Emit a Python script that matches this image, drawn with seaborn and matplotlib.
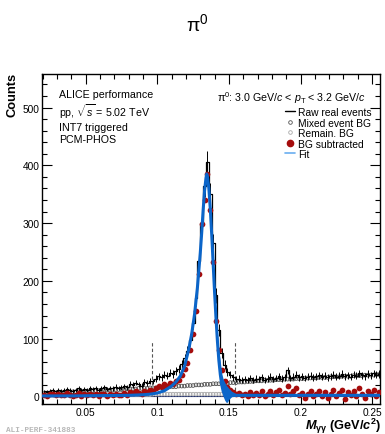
import numpy as np
import pandas as pd
import seaborn as sns
import matplotlib
matplotlib.use("Agg")
import matplotlib.pyplot as plt
from matplotlib.lines import Line2D
from matplotlib.ticker import MultipleLocator, FuncFormatter

# ---------------- data ----------------
# invariant mass bin centres, 2 MeV bins
mass = np.round(0.021 + 0.002 * np.arange(118), 3)

raw_counts = [
    9, 8, 10, 11, 9, 12, 10, 11, 13, 12, 10, 12, 14, 11, 13,
    12, 14, 13, 15, 12, 14, 16, 13, 15, 14, 17, 15, 16, 18, 16,
    22, 20, 24, 21, 19, 25, 23, 27, 26, 31,
    35, 33, 38, 36, 41, 39, 44, 48, 56, 66,
    78, 98, 128, 170, 235, 300, 365, 405, 350, 265,
    175, 115, 75, 55, 42, 38, 33, 30, 31, 28,
    30, 29, 32, 28, 31, 30, 33, 29, 31, 34, 30, 32, 35, 31, 33, 45, 32, 34, 38, 33,
    35, 32, 34, 36, 33, 35, 37, 34, 36, 33, 35, 38, 34, 36, 39, 35, 37, 34, 38, 36,
    40, 37, 35, 39, 37, 40, 38, 39,
]

mixed_bg = [
    5, 5, 6, 6, 6, 7, 7, 7, 7, 8, 8, 8, 8, 9, 9,
    9, 9, 10, 10, 10, 10, 11, 11, 11, 11, 12, 12, 12, 12, 13,
    13, 13, 13, 14, 14, 14, 14, 15, 15, 15,
    15, 16, 16, 16, 17, 17, 17, 18, 18, 18,
    19, 19, 19, 20, 20, 20, 21, 21, 21, 22,
    22, 22, 23, 23, 23, 24, 24, 24, 25, 25,
    25, 26, 26, 26, 27, 27, 27, 28, 28, 28, 28, 29, 29, 29, 30, 30, 30, 30, 31, 31,
    31, 31, 32, 32, 32, 32, 33, 33, 33, 33, 34, 34, 34, 34, 35, 35, 35, 35, 36, 36,
    36, 36, 37, 37, 37, 37, 38, 38,
]

bg_subtracted = [
    3, 1, 4, 5, 2, 4, 2, 3, 6, 3, 1, 3, 6, 1, 4,
    2, 5, 2, 4, 1, 4, 5, 1, 4, 2, 5, 2, 3, 6, 2,
    8, 6, 10, 6, 4, 10, 8, 11, 10, 15,
    19, 16, 21, 19, 23, 21, 26, 29, 37, 47,
    58, 80, 108, 148, 212, 298, 340, 385, 322, 232,
    130, 80, 45, 26, 16, 12, 8, 5, 6, 2,
    5, 1, 8, 2, 6, 3, 9, 1, 5, 10, 2, 7, 12, 3, 6, 18, 4, 9, 14, 3,
    6, -2, 5, 9, 1, 4, 10, 0, 7, -3, 5, 11, 1, 6, 12, -5, 8, 3, 10, 0,
    14, 5, -2, 9, 4, 12, 1, 8,
]

remain_mass = np.round(0.081 + 0.002 * np.arange(45), 3)
remain_bg = [3, 3, 3, 3, 3, 3, 3, 3, 4, 4, 4, 4, 4, 4, 4, 4, 4, 4, 4, 4, 4, 4, 4,
             4, 4, 4, 4, 4, 4, 4, 4, 4, 4, 4, 4, 4, 4, 4, 4, 3, 3, 3, 3, 3, 3]

fit_x = [0.020, 0.040, 0.060, 0.080, 0.090, 0.095, 0.100, 0.105, 0.110, 0.113,
         0.116, 0.119, 0.122, 0.124, 0.126, 0.128, 0.130, 0.131, 0.132, 0.133,
         0.134, 0.1345, 0.135, 0.136, 0.137, 0.138, 0.139, 0.140, 0.141, 0.142,
         0.143, 0.144, 0.145, 0.146, 0.147, 0.148, 0.150, 0.155, 0.160, 0.200, 0.256]
fit_y = [1, 1, 1.5, 2, 3, 4, 6, 10, 18, 25,
         35, 52, 82, 108, 142, 188, 248, 283, 322, 356,
         378, 385, 381, 360, 325, 280, 230, 180, 135, 95,
         62, 38, 20, 9, 3, 1, 1, 2, 2, 2, 2]

band_x = [0.141, 0.143, 0.145, 0.146, 0.147, 0.148, 0.149, 0.150, 0.152, 0.155, 0.157]
band_lo = [110, 50, 12, 0, -6, -10, -10, -5, 0, 1, 2]
band_hi = [140, 80, 40, 30, 25, 20, 17, 14, 9, 5, 2]

window = [0.096, 0.154]
window_top = 95

legend_labels = ["Raw real events", "Mixed event BG", "Remain. BG", "BG subtracted", "Fit"]

# ---------------- styling ----------------
sns.set_theme(style="ticks")
plt.rcParams["font.family"] = ["Liberation Sans", "DejaVu Sans"]
plt.rcParams["mathtext.fontset"] = "custom"
plt.rcParams["mathtext.rm"] = "Liberation Sans"
plt.rcParams["mathtext.it"] = "Liberation Sans:italic"
plt.rcParams["mathtext.bf"] = "Liberation Sans:bold"
plt.rcParams["mathtext.bfit"] = "Liberation Sans:bold:italic"
for k in ["text.color", "axes.labelcolor", "xtick.color", "ytick.color", "axes.edgecolor"]:
    plt.rcParams[k] = "black"

RED = "#a50c0c"
BLUE = "#0b65c9"

fig = plt.figure(figsize=(3.85, 4.35), dpi=100)
ax = fig.add_axes([42 / 385, 1 - 405 / 435, 338 / 385, 330 / 435])

df = pd.DataFrame({"mass": mass, "raw": raw_counts, "mixed": mixed_bg, "sub": bg_subtracted})

ax.axhline(0, color="#1a2a6a", lw=0.8, zorder=1)

sns.scatterplot(data=df, x="mass", y="mixed", ax=ax, marker="o", s=7,
                facecolors="none", edgecolor="#505050", linewidth=0.6, zorder=2)
sns.scatterplot(x=remain_mass, y=remain_bg, ax=ax, marker="o", s=7,
                facecolors="none", edgecolor="#a8a8a8", linewidth=0.6, zorder=2)

ax.errorbar(df["mass"], df["raw"], yerr=np.sqrt(df["raw"]), fmt="none",
            ecolor="black", elinewidth=0.7, zorder=3)
sns.lineplot(data=df, x="mass", y="raw", ax=ax, drawstyle="steps-mid",
             color="black", lw=0.9, zorder=3)

sns.scatterplot(data=df, x="mass", y="sub", ax=ax, color=RED, s=17,
                linewidth=0, zorder=4)

sns.lineplot(x=fit_x, y=fit_y, ax=ax, color=BLUE, lw=2.2, zorder=5)
ax.fill_between(band_x, band_lo, band_hi, color=BLUE, lw=0, zorder=5)

ax.vlines(window, 0, window_top, colors="#555555", linestyles=(0, (3, 2)), lw=0.8, zorder=1)

ax.set_xlim(0.0195, 0.2555)
ax.set_ylim(-13, 558)
ax.set_xlabel("")
ax.set_ylabel("")
ax.xaxis.set_major_locator(MultipleLocator(0.05))
ax.xaxis.set_minor_locator(MultipleLocator(0.01))
ax.yaxis.set_major_locator(MultipleLocator(100))
ax.yaxis.set_minor_locator(MultipleLocator(20))
ax.xaxis.set_major_formatter(FuncFormatter(lambda v, p: f"{v:g}"))
ax.tick_params(which="both", direction="in", top=True, right=True, width=0.8,
               labelsize=7.3, colors="black")
ax.tick_params(which="major", length=7)
ax.tick_params(which="minor", length=3.5)
ax.tick_params(axis="y", pad=2)
ax.tick_params(axis="x", pad=2.0)
for s in ax.spines.values():
    s.set_linewidth(1.0)
    s.set_color("black")

handles = [
    Line2D([], [], color="black", lw=1),
    Line2D([], [], marker="o", ls="none", mfc="none", mec="#505050", ms=2.6, mew=0.6),
    Line2D([], [], marker="o", ls="none", mfc="none", mec="#a8a8a8", ms=2.6, mew=0.6),
    Line2D([], [], marker="o", ls="none", color=RED, ms=4.5),
    Line2D([], [], color="#6aaef0", lw=1.2),
]
ax.legend(handles, legend_labels, loc="upper right", bbox_to_anchor=(0.975, 0.9),
          frameon=False, fontsize=7.4, handlelength=1.0, handletextpad=0.3,
          labelspacing=0.05, borderaxespad=0, borderpad=0)

ax.text(0.051, 0.955, "ALICE performance\npp, $\\sqrt{s}$ = 5.02 TeV\nINT7 triggered\nPCM-PHOS",
        transform=ax.transAxes, ha="left", va="top", fontsize=7.7, linespacing=1.2)
ax.text(0.96, 0.955, r"$\mathrm{π}^{0}$: 3.0 GeV/$c$ < $p_{\mathrm{T}}$ < 3.2 GeV/$c$",
        transform=ax.transAxes, ha="right", va="top", fontsize=7.7)

fig.text(0.513, 1 - 31 / 435, r"$\mathrm{π}^{0}$", ha="center", va="baseline", fontsize=14)
fig.text(13 / 385, 1 - 73 / 435, "Counts", rotation=90, ha="center", va="top",
         fontsize=9.3, fontweight="bold")
fig.text(381 / 385, 1 - 430 / 435,
         r"$\mathbfit{M}_{\mathbf{γγ}}$ $\mathbf{(GeV/}\mathbfit{c}^{\mathbf{2}}\mathbf{)}$",
         ha="right", va="baseline", fontsize=9.2)
fig.text(6.5 / 385, 1 - 432 / 435, "ALI-PERF-341883", ha="left", va="baseline",
         fontsize=5.6, family="Liberation Mono", fontweight="bold", color="#b8b8b8")

fig.savefig("out.png", dpi=100, facecolor="white")
